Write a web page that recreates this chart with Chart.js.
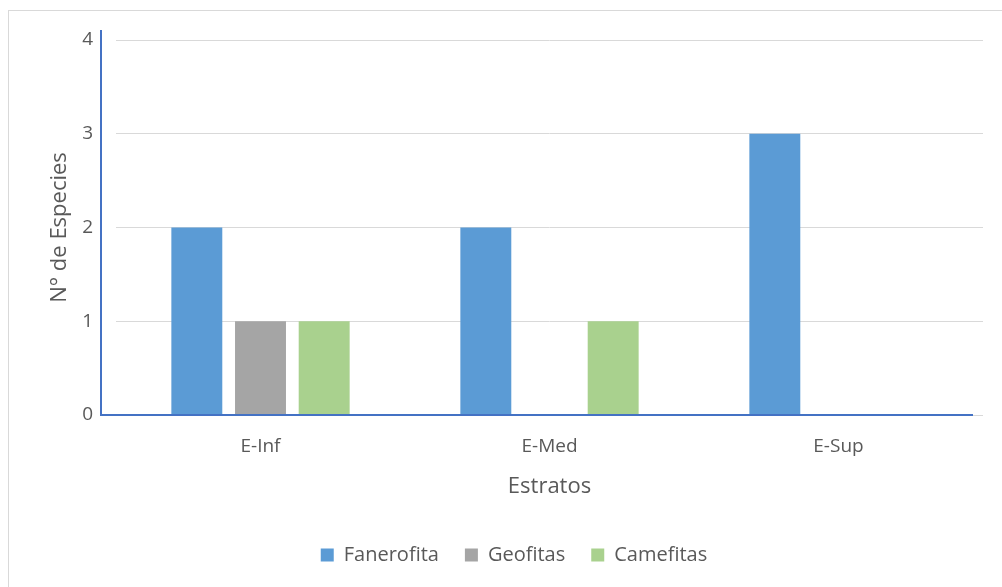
<!DOCTYPE html>
<html>
<head>
<meta charset="utf-8">
<script src="https://cdn.jsdelivr.net/npm/chart.js@4"></script>
<style>
  html, body { margin: 0; padding: 0; background: #fff; }
  .frame { position: absolute; left: 8px; top: 10px; width: 1000px; height: 576px; border: 1px solid #d9d9d9; }
  .wrap { position: absolute; left: 0; top: 0; width: 1002px; height: 587px; }
</style>
</head>
<body>
<div class="frame"></div>
<div class="wrap"><canvas id="chart" width="1002" height="587"></canvas></div>
<script>
// data
const categories = ['E-Inf', 'E-Med', 'E-Sup'];
const fanerofita = [2, 2, 3];
const geofitas = [1, 0, 0];
const camefitas = [1, 1, 0];
const yTicks = [0, 1, 2, 3, 4];

const textColor = '#595959';
const fontFamily = '"Open Sans", "Noto Sans", sans-serif';

// blue axis lines, drawn slightly outside the plot like the original
const axisLines = {
    id: 'axisLines',
    afterDatasetsDraw(chart) {
        const { ctx, chartArea } = chart;
        ctx.save();
        ctx.strokeStyle = '#4472c4';
        ctx.lineWidth = 2;
        ctx.beginPath();
        ctx.moveTo(chartArea.left - 15, chartArea.top - 10);
        ctx.lineTo(chartArea.left - 15, chartArea.bottom);
        ctx.lineTo(chartArea.right - 10, chartArea.bottom);
        ctx.stroke();
        ctx.restore();
    }
};

function initializeChart() {
    const ctx = document.getElementById('chart').getContext('2d');
    new Chart(ctx, {
        type: 'bar',
        data: {
            labels: categories,
            datasets: [{
                label: 'Fanerofita',
                data: fanerofita,
                backgroundColor: '#5b9bd5'
            }, {
                label: 'Geofitas',
                data: geofitas,
                backgroundColor: '#a5a5a5'
            }, {
                label: 'Camefitas',
                data: camefitas,
                backgroundColor: '#a9d18e'
            }]
        },
        options: {
            responsive: false,
            animation: false,
            layout: {
                padding: { left: 45, right: 19, top: 40, bottom: 12 }
            },
            datasets: {
                bar: { categoryPercentage: 0.661, barPercentage: 0.8 }
            },
            scales: {
                x: {
                    grid: { display: false },
                    border: { display: false },
                    ticks: {
                        color: textColor,
                        font: { family: fontFamily, size: 19 },
                        padding: 12
                    },
                    title: {
                        display: true,
                        text: 'Estratos',
                        color: textColor,
                        font: { family: fontFamily, size: 22 },
                        padding: { top: 0, bottom: 19 }
                    },
                    afterFit(scale) { scale.height = 104; }
                },
                y: {
                    min: 0,
                    max: 4,
                    afterBuildTicks(scale) {
                        scale.ticks = yTicks.map(v => ({ value: v }));
                    },
                    grid: {
                        color: '#d9d9d9',
                        lineWidth: 1,
                        drawTicks: false
                    },
                    border: { display: false },
                    ticks: {
                        color: textColor,
                        font: { family: fontFamily, size: 19 },
                        padding: 23
                    },
                    title: {
                        display: true,
                        text: 'N° de Especies',
                        color: textColor,
                        font: { family: fontFamily, size: 22 },
                        padding: { top: 2, bottom: 0 }
                    },
                    afterFit(scale) { scale.width = 71; }
                }
            },
            plugins: {
                legend: {
                    position: 'bottom',
                    labels: {
                        color: textColor,
                        font: { family: fontFamily, size: 20 },
                        boxWidth: 13,
                        boxHeight: 13,
                        padding: 26
                    }
                },
                tooltip: { enabled: false }
            }
        },
        plugins: [axisLines]
    });
}

document.addEventListener('DOMContentLoaded', () => {
    initializeChart();
});
</script>
</body>
</html>
